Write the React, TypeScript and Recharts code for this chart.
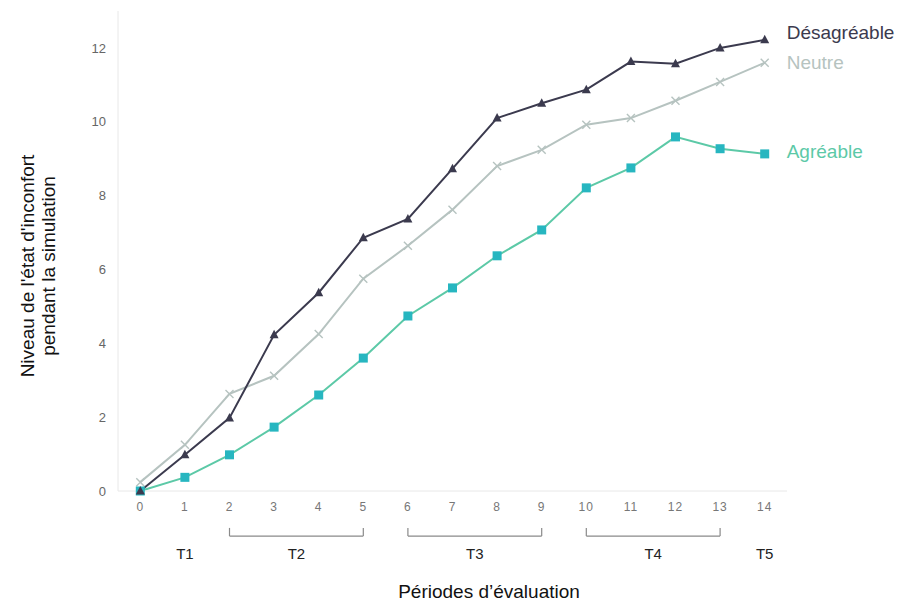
import { LineChart, Line, XAxis, YAxis, ReferenceLine, ReferenceDot, Label } from "recharts";

// périodes d'évaluation 0..14
const periods = [0, 1, 2, 3, 4, 5, 6, 7, 8, 9, 10, 11, 12, 13, 14];
const desagreable = [0, 0.98, 1.98, 4.23, 5.37, 6.86, 7.37, 8.73, 10.1, 10.5, 10.87, 11.63, 11.57, 12.0, 12.22];
const neutre = [0.24, 1.25, 2.63, 3.12, 4.25, 5.75, 6.64, 7.62, 8.8, 9.24, 9.92, 10.1, 10.57, 11.08, 11.6];
const agreable = [0, 0.37, 0.98, 1.73, 2.6, 3.6, 4.74, 5.5, 6.37, 7.07, 8.21, 8.75, 9.59, 9.27, 9.13];
const yTicks = [0, 2, 4, 6, 8, 10, 12];

const phaseNames = ["T1", "T2", "T3", "T4", "T5"];
const phaseStart = [1, 2, 6, 10, 14];
const phaseEnd = [1, 5, 9, 13, 14];

const data = periods.map((p, i) => ({
  period: p,
  desagreable: desagreable[i],
  neutre: neutre[i],
  agreable: agreable[i],
}));

const FONT = "'Liberation Sans', Arial, sans-serif";
const DARK = "#3b3a4e";
const GREY = "#b6c3c0";
const GREEN = "#5cc9a7";
const TEAL = "#27b6c0";

const BRACKET_TOP = -1.0;
const BRACKET_BOT = -1.22;
const PHASE_Y = -1.69;

const Triangle = (p: any) => {
  if (p.cx == null) return null;
  const { cx, cy } = p;
  return <path key={p.index} d={`M${cx},${cy - 5} L${cx + 4.5},${cy + 3.5} L${cx - 4.5},${cy + 3.5} Z`} fill={DARK} />;
};

const Cross = (p: any) => {
  if (p.cx == null) return null;
  const { cx, cy } = p;
  return (
    <path
      key={p.index}
      d={`M${cx - 4},${cy - 4} L${cx + 4},${cy + 4} M${cx - 4},${cy + 4} L${cx + 4},${cy - 4}`}
      stroke={GREY}
      strokeWidth={1.4}
      fill="none"
    />
  );
};

const Square = (p: any) => {
  if (p.cx == null) return null;
  const { cx, cy } = p;
  return <rect key={p.index} x={cx - 4.5} y={cy - 4.5} width={9} height={9} fill={TEAL} />;
};

const endLabel = (text: string, color: string, dy: number) => (p: any) => {
  if (p.index !== periods.length - 1) return null;
  return (
    <text x={p.x + 22} y={p.y + dy} fill={color} fontSize={19} fontFamily={FONT} dominantBaseline="central">
      {text}
    </text>
  );
};

const YTitle = () => (
  <text transform="translate(37,266) rotate(-90)" textAnchor="middle" fontSize={19} fontFamily={FONT} fill="#111">
    <tspan x={0} dy={-3}>Niveau de l'état d'inconfort</tspan>
    <tspan x={0} dy={21}>pendant la simulation</tspan>
  </text>
);

const XTitle = () => (
  <text x={489} y={598} textAnchor="middle" fontSize={19} fontFamily={FONT} fill="#111">
    Périodes d’évaluation
  </text>
);

export default function App() {
  return (
    <div style={{ position: "absolute", left: 0, top: 0, background: "#fff" }}>
      <LineChart width={897} height={605} data={data} margin={{ top: 11, right: 110, left: 58, bottom: 0 }}>
        <XAxis
          dataKey="period"
          type="number"
          domain={[-0.5, 14.5]}
          ticks={periods}
          interval={0}
          height={114}
          tickLine={false}
          tickSize={0}
          tickMargin={11}
          stroke="#e8e8e8"
          tick={{ fill: "#777", fontSize: 12, fontFamily: FONT, letterSpacing: 1 }}
        >
          <Label content={<XTitle />} />
        </XAxis>
        <YAxis
          type="number"
          domain={[0, 13]}
          ticks={yTicks}
          width={60}
          tickLine={false}
          tickSize={0}
          tickMargin={12}
          stroke="#e8e8e8"
          tick={{ fill: "#666", fontSize: 13, fontFamily: FONT }}
        >
          <Label content={<YTitle />} />
        </YAxis>

        {phaseNames.map((name, i) =>
          phaseStart[i] !== phaseEnd[i] ? (
            <ReferenceLine
              key={`l-${name}`}
              ifOverflow="visible"
              stroke="#8a8a8a"
              strokeWidth={1.2}
              segment={[
                { x: phaseStart[i], y: BRACKET_TOP },
                { x: phaseStart[i], y: BRACKET_BOT },
              ]}
            />
          ) : null
        )}
        {phaseNames.map((name, i) =>
          phaseStart[i] !== phaseEnd[i] ? (
            <ReferenceLine
              key={`h-${name}`}
              ifOverflow="visible"
              stroke="#8a8a8a"
              strokeWidth={1.2}
              segment={[
                { x: phaseStart[i], y: BRACKET_BOT },
                { x: phaseEnd[i], y: BRACKET_BOT },
              ]}
            />
          ) : null
        )}
        {phaseNames.map((name, i) =>
          phaseStart[i] !== phaseEnd[i] ? (
            <ReferenceLine
              key={`r-${name}`}
              ifOverflow="visible"
              stroke="#8a8a8a"
              strokeWidth={1.2}
              segment={[
                { x: phaseEnd[i], y: BRACKET_TOP },
                { x: phaseEnd[i], y: BRACKET_BOT },
              ]}
            />
          ) : null
        )}
        {phaseNames.map((name, i) => (
          <ReferenceDot
            key={`t-${name}`}
            x={(phaseStart[i] + phaseEnd[i]) / 2}
            y={PHASE_Y}
            r={1}
            fill="none"
            stroke="none"
            ifOverflow="visible"
            label={{ value: name, position: "center", fill: "#222", fontSize: 15, fontFamily: FONT }}
          />
        ))}

        <Line
          dataKey="neutre"
          stroke={GREY}
          strokeWidth={2}
          dot={Cross}
          activeDot={false}
          isAnimationActive={false}
          label={endLabel("Neutre", GREY, 0)}
        />
        <Line
          dataKey="agreable"
          stroke={GREEN}
          strokeWidth={2}
          dot={Square}
          activeDot={false}
          isAnimationActive={false}
          label={endLabel("Agréable", GREEN, -2)}
        />
        <Line
          dataKey="desagreable"
          stroke={DARK}
          strokeWidth={2}
          dot={Triangle}
          activeDot={false}
          isAnimationActive={false}
          label={endLabel("Désagréable", DARK, -7)}
        />
      </LineChart>
    </div>
  );
}
